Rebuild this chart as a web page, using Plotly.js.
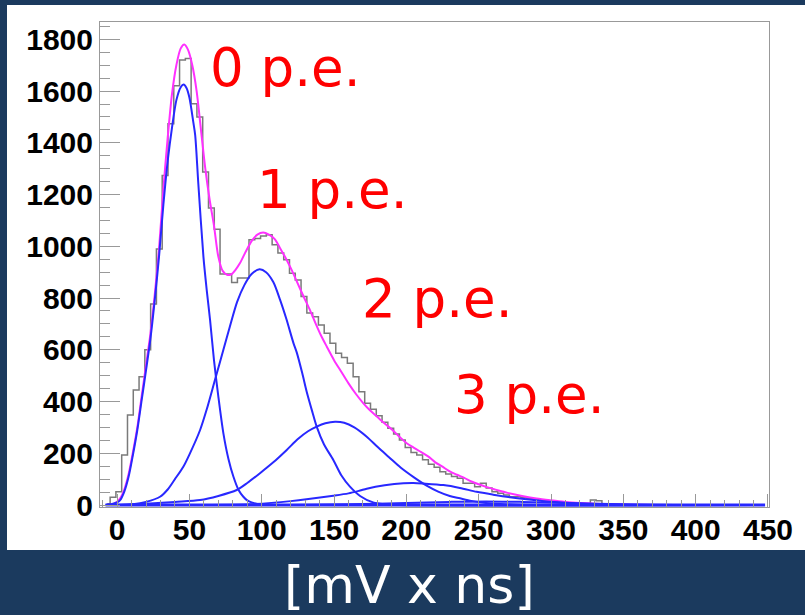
<!DOCTYPE html>
<html>
<head>
<meta charset="utf-8">
<script src="https://cdn.plot.ly/plotly-3.0.1.min.js"></script>
<style>
  html, body { margin: 0; padding: 0; background: #1b3a5e; width: 805px; height: 615px; overflow: hidden; }
  #panel { position: absolute; left: 7px; top: 5px; width: 798px; height: 545px; background: #ffffff; }
  #chart { position: absolute; left: 0; top: 0; width: 805px; height: 615px; }
</style>
</head>
<body>
<div id="panel"></div>
<div id="chart"></div>
<script>
// ---- Histogram (bin width 4, first bin starts at -8.8) ----
const histStart = -8.8;
const histBinWidth = 4;
const histCounts = [5, 30, 51, 193, 348, 445, 496, 600, 777, 990, 1274, 1474, 1621, 1720, 1726, 1551, 1500, 1287, 1148, 1066,
  893, 893, 860, 877, 877, 1025, 1030, 1040, 1045, 1006, 974, 948, 896, 870, 806, 742, 728, 696, 664, 625,
  587, 570, 548, 496, 438, 393, 370, 345, 320, 297, 274, 251, 222, 203, 193, 175, 158, 146, 129, 120,
  110, 103, 84, 84, 71, 84, 66, 51, 45, 39, 32, 32, 28, 26, 24, 19, 16, 13, 11, 9,
  7, 6, 5, 5, 19, 16, 3, 2, 1, 0, 0, 0, 0, 0, 0, 0, 0, 0, 0, 0,
  0, 0, 0, 0, 0, 0, 0, 0, 0, 0, 0];

// ---- Total fit (magenta) ----
const totalX = [-6, -2, 2, 5, 8, 11, 14, 17, 20, 23, 26, 29, 32, 35, 38, 41, 44, 46.5, 49, 52, 55, 58, 61, 64, 67, 70, 73, 76, 79, 82, 85, 89, 93, 97, 101, 105, 109, 113, 117, 121, 125, 129, 133, 137, 141, 145, 150, 155, 160, 165, 170, 175, 180, 185, 190, 195, 200, 205, 210, 215, 220, 225, 230, 235, 240, 245, 250, 255, 260, 265, 270, 280, 290, 300, 310, 320, 330, 340, 350, 360, 380, 440];
const totalY = [0, 5, 25, 60, 120, 205, 300, 420, 540, 660, 810, 990, 1220, 1420, 1590, 1700, 1765, 1780, 1760, 1700, 1600, 1450, 1300, 1180, 1080, 960, 905, 890, 892, 910, 935, 980, 1020, 1045, 1053, 1045, 1028, 990, 950, 905, 855, 805, 758, 705, 655, 612, 560, 515, 470, 430, 395, 365, 340, 315, 292, 265, 240, 222, 205, 188, 165, 148, 130, 117, 105, 91, 80, 70, 62, 54, 47, 35, 25, 18, 12, 8, 5, 3, 2, 1, 0, 0];

// ---- Components (blue) ----
const pe0X = [-8, -4, 0, 2, 5, 8, 11, 14, 17, 20, 23, 26, 29, 32, 35, 38, 41, 44, 46, 48, 50, 52.7, 54, 56.2, 59.7, 62, 64.3, 67, 70, 73.5, 77, 80.4, 84, 87.3, 90, 93, 97, 100, 105, 440];
const pe0Y = [0, 3, 10, 18, 52, 110, 195, 290, 405, 520, 640, 790, 960, 1160, 1330, 1460, 1565, 1615, 1625, 1612, 1575, 1480, 1430, 1240, 960, 830, 715, 560, 420, 277, 178, 110, 58, 32, 18, 10, 4, 1, 0, 0];

const pe1X = [0, 11, 20, 29.7, 35, 40, 45.8, 50, 57.4, 62, 67.7, 73.5, 78, 83, 88, 93, 98.5, 103, 108, 112.7, 117, 122, 124.2, 128, 131, 135, 138, 143, 149.5, 155, 161, 168, 177, 185, 195, 440];
const pe1Y = [0, 3, 12, 32, 60, 100, 148, 195, 290, 370, 484, 600, 690, 785, 850, 893, 911, 900, 862, 793, 720, 625, 590, 510, 440, 360, 303, 235, 174, 115, 71, 35, 10, 3, 0, 0];

const pe2X = [0, 22.8, 40, 57.4, 70, 82.7, 90, 98.8, 108, 117.3, 125, 132, 138, 144, 150.7, 157, 164, 172.6, 180, 188, 196, 205, 214, 222, 230, 237, 245, 255, 265, 280, 300, 440];
const pe2Y = [0, 6, 12, 19, 35, 58, 85, 123, 165, 213, 255, 285, 303, 316, 322, 318, 300, 264, 225, 185, 145, 108, 75, 52, 35, 26, 16, 8, 4, 1, 0, 0];

const pe3X = [50, 92, 120, 149.5, 160, 168, 172.6, 185, 198, 205, 212, 225.6, 237, 248.6, 260, 271.6, 283, 295, 307, 318, 330, 345, 360, 440];
const pe3Y = [0, 3, 15, 36, 45, 56, 63, 76, 84, 85, 83, 77, 66, 51, 40, 30, 22, 15, 10, 6, 3, 1, 0, 0];

const pe4X = [120, 160, 200, 230, 255, 280, 310, 340, 370, 400, 440];
const pe4Y = [0, 3, 8, 12, 14, 12, 8, 4, 1, 0, 0];

const baseX = [-8, 448];
const baseY = [0, 0];

// ---- Labels ----
const peLabels = ["0 p.e.", "1 p.e.", "2 p.e.", "3 p.e."];
const peLabelX = [62.9, 95.4, 168, 231.5];
const peLabelY = [1690, 1218, 797, 429];
const xTickVals = [0, 50, 100, 150, 200, 250, 300, 350, 400, 450];
const yTickVals = [0, 200, 400, 600, 800, 1000, 1200, 1400, 1600, 1800];
const xUnitLabel = "[mV x ns]";

const histX = histCounts.map((_, i) => histStart + histBinWidth * (i + 0.5));

const blue = "rgb(40,40,255)";
const traces = [
  { x: histX, y: histCounts, type: "scatter", mode: "lines", line: { shape: "hvh", color: "#7a7a7a", width: 1.5 }, hoverinfo: "skip" },
  { x: totalX, y: totalY, type: "scatter", mode: "lines", line: { shape: "spline", smoothing: 0.8, color: "#ff30ff", width: 2 } },
  { x: pe0X, y: pe0Y, type: "scatter", mode: "lines", line: { shape: "spline", smoothing: 0.8, color: blue, width: 2 } },
  { x: pe1X, y: pe1Y, type: "scatter", mode: "lines", line: { shape: "spline", smoothing: 0.8, color: blue, width: 2 } },
  { x: pe2X, y: pe2Y, type: "scatter", mode: "lines", line: { shape: "spline", smoothing: 0.8, color: blue, width: 2 } },
  { x: pe3X, y: pe3Y, type: "scatter", mode: "lines", line: { shape: "spline", smoothing: 0.8, color: blue, width: 2 } },
  { x: pe4X, y: pe4Y, type: "scatter", mode: "lines", line: { shape: "spline", smoothing: 0.8, color: blue, width: 2 } },
  { x: baseX, y: baseY, type: "scatter", mode: "lines", line: { color: blue, width: 3 } }
];

const tickFont = { family: "Liberation Sans, Arial, sans-serif", size: 30, color: "#000000", weight: "bold" };

const annotations = peLabels.map((t, i) => ({
  x: peLabelX[i], y: peLabelY[i], xref: "x", yref: "y", text: t, showarrow: false,
  xanchor: "left", yanchor: "middle",
  font: { family: "DejaVu Sans, Verdana, sans-serif", size: 53, color: "#ff0000" }
}));
annotations.push({
  x: 0.463, y: -0.16, xref: "paper", yref: "paper", text: xUnitLabel, showarrow: false,
  xanchor: "center", yanchor: "middle",
  font: { family: "DejaVu Sans, Verdana, sans-serif", size: 52, color: "#ffffff" }
});

const layout = {
  width: 805, height: 615,
  margin: { l: 100, r: 36, t: 22, b: 108, pad: 0 },
  paper_bgcolor: "rgba(0,0,0,0)",
  plot_bgcolor: "#ffffff",
  showlegend: false,
  xaxis: {
    range: [-11.8, 450.7], tickvals: xTickVals, ticktext: xTickVals.map(String),
    ticks: "inside", ticklen: 13, tickwidth: 1, tickcolor: "#999999",
    minor: { dtick: 10, tick0: 0, ticks: "inside", ticklen: 7, tickwidth: 1, tickcolor: "#999999" },
    showgrid: false, zeroline: false, showline: true, linecolor: "#999999", linewidth: 1, mirror: true,
    tickfont: tickFont, ticklabelstandoff: -4
  },
  yaxis: {
    range: [-7.7, 1867], tickvals: yTickVals, ticktext: yTickVals.map(String),
    ticks: "inside", ticklen: 20, tickwidth: 1, tickcolor: "#999999",
    minor: { dtick: 50, tick0: 0, ticks: "inside", ticklen: 10, tickwidth: 1, tickcolor: "#999999" },
    showgrid: false, zeroline: false, showline: true, linecolor: "#999999", linewidth: 1, mirror: true,
    tickfont: tickFont
  },
  annotations: annotations
};

Plotly.newPlot("chart", traces, layout, { displayModeBar: false, staticPlot: true });
</script>
</body>
</html>
